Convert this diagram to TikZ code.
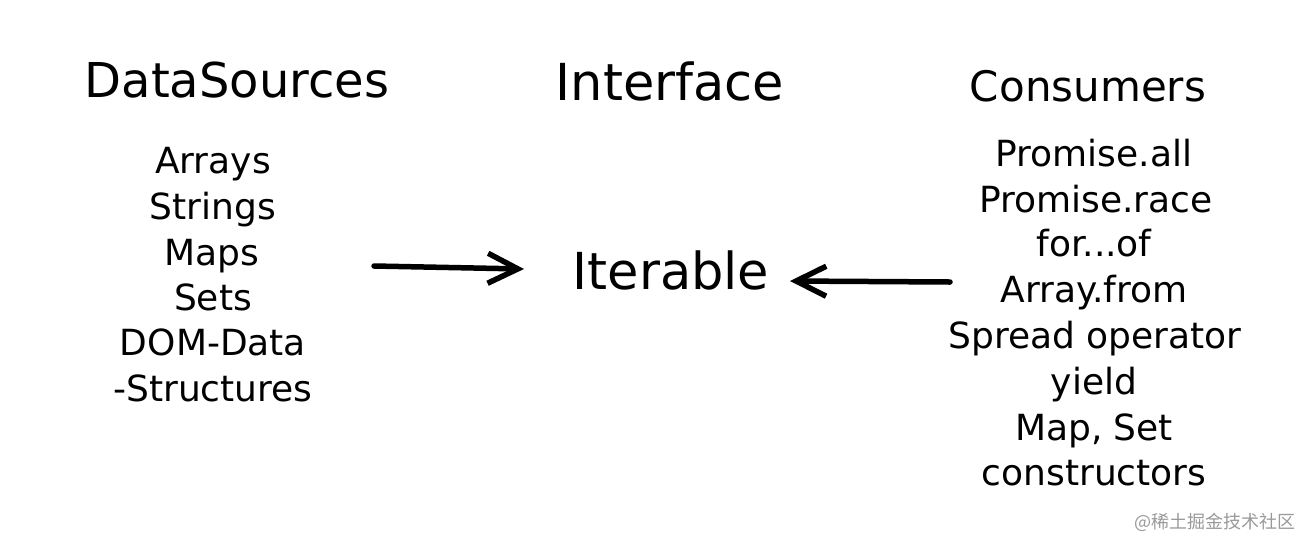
\documentclass[tikz,border=0pt]{standalone}
\usepackage{fontspec}
\setmainfont{DejaVu Sans}
\newfontfamily\cjk{Noto Sans CJK SC}
\usetikzlibrary{arrows.meta}
\begin{document}
\begin{tikzpicture}[x=1pt,y=-1pt,line join=round,line cap=round,black]
\tikzset{
head/.style={font=\fontsize{48}{48}\selectfont,inner sep=0pt,anchor=center,text height=40pt,text depth=5pt},
wide/.style={font=\fontsize{51}{51}\selectfont},
item/.style={font=\fontsize{36}{36}\selectfont,inner sep=0pt,anchor=center,text height=31pt,text depth=5pt},
link/.style={line width=5.5pt,-{Straight Barb[length=30pt,width=30pt,line width=5.5pt]}}
}
\useasboundingbox (0,0) rectangle (1312,550);
%========headers
\node[head] (sources) at (237,80) {DataSources};
\node[head,wide] (interface) at (670,83) {Interface};
\node[head,font=\fontsize{42}{42}\selectfont] (consumers) at (1088,84) {Consumers};
%========data sources
\node[item] (arrays) at (213,160) {Arrays};
\node[item] (strings) at (213,206) {Strings};
\node[item] (maps) at (212,252) {Maps};
\node[item] (sets) at (213,297) {Sets};
\node[item] (dom) at (213,342) {DOM-Data};
\node[item] (structures) at (213,388) {-Structures};
%========middle
\node[head,wide] (iterable) at (671,272) {Iterable};
%========consumers
\node[item] (all) at (1094,153) {Promise.all};
\node[item] (race) at (1096,199) {Promise.race};
\node[item] (forof) at (1094,243) {for...of};
\node[item] (from) at (1094,289) {Array.from};
\node[item] (spread) at (1095,335) {Spread operator};
\node[item] (yield) at (1094,381) {yield};
\node[item] (mapset) at (1094,427) {Map, Set};
\node[item] (ctors) at (1094,472) {constructors};
%========arrows
\coordinate (left) at (374,266);
\coordinate (right) at (950,282);
\coordinate (lefttip) at (524,269);
\coordinate (righttip) at (790,281);
\draw[link] (left)--(lefttip);
\draw[link] (right)--(righttip);
%========watermark
\node[font=\cjk\fontsize{18}{18}\selectfont,text=black!40,inner sep=0pt] (mark) at (1215,522) {@稀土掘金技术社区};
\end{tikzpicture}
\end{document}
